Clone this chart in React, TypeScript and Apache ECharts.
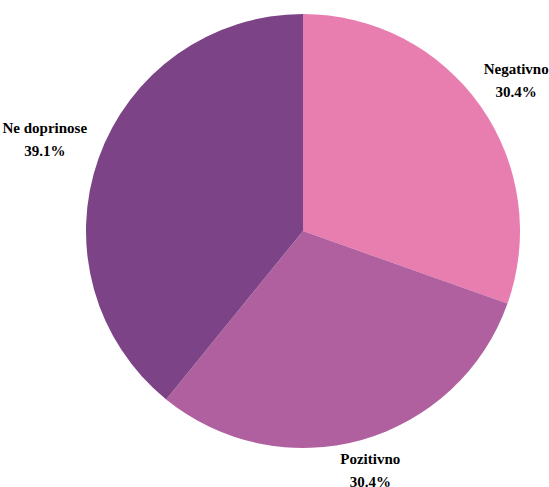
import React, { useEffect, useRef } from "react";
import * as echarts from "echarts";

const categories = ["Negativno", "Pozitivno", "Ne doprinose"];
const values = [30.4, 30.4, 39.1];
const sliceColors = ["#E87DAF", "#B0609F", "#7C4486"];

const CX = 303;
const CY = 231;
const R = 217;
const labelGaps = [44, 32, 57];
const FONT = "Liberation Serif";

export default function App() {
  const ref = useRef<HTMLDivElement>(null);
  useEffect(() => {
    if (!ref.current) return;
    const chart = echarts.init(ref.current, null, { renderer: "svg" });
    const total = values.reduce((a, b) => a + b, 0);
    chart.setOption({
      animation: false,
      backgroundColor: "#ffffff",
      textStyle: { fontFamily: FONT },
      series: [
        {
          type: "pie",
          center: [CX, CY],
          radius: [0, R],
          startAngle: 90,
          clockwise: true,
          avoidLabelOverlap: false,
          data: categories.map((c, i) => ({
            name: c,
            value: values[i],
            itemStyle: { color: sliceColors[i] },
          })),
          label: {
            show: true,
            position: "outside",
            formatter: (p: any) => `${p.name}\n${p.value.toFixed(1)}%`,
            fontFamily: FONT,
            fontWeight: "bold",
            fontSize: 15,
            lineHeight: 23,
            color: "#000000",
            align: "center",
          },
          labelLine: { show: false },
          labelLayout: (p: any) => {
            const i = p.dataIndex;
            let before = 0;
            for (let k = 0; k < i; k++) before += values[k];
            const mid = ((before + values[i] / 2) / total) * Math.PI * 2;
            const d = R + labelGaps[i];
            return {
              x: CX + Math.sin(mid) * d,
              y: CY - Math.cos(mid) * d,
              align: "center",
              verticalAlign: "middle",
            };
          },
          emphasis: { disabled: true },
        },
      ],
    });
    return () => chart.dispose();
  }, []);
  return (
    <div
      ref={ref}
      style={{ position: "fixed", left: 0, top: 0, width: 549, height: 487 }}
    />
  );
}
